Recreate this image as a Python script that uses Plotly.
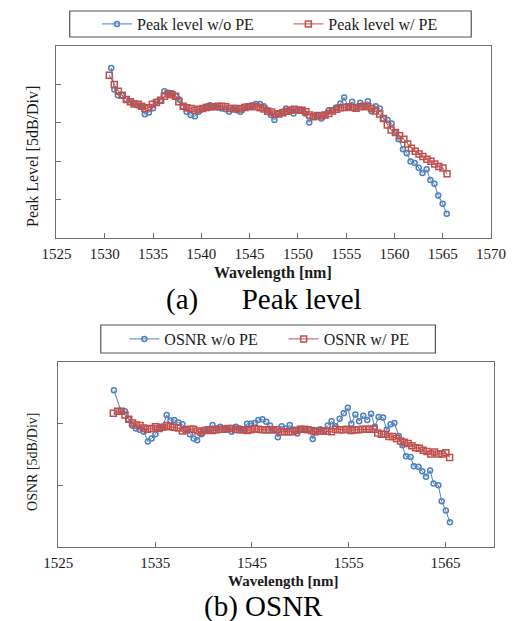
import plotly.graph_objects as go

# ---------------- (a) Peak level ----------------
pk_wo_x = [1530.67, 1530.99, 1531.35, 1531.77, 1532.20, 1532.59, 1532.98, 1533.40, 1533.79, 1534.15,
           1534.57, 1535.00, 1535.35, 1535.75, 1536.17, 1536.56, 1536.98, 1537.37, 1537.73, 1538.12,
           1538.48, 1538.90, 1539.33, 1539.72, 1540.11, 1540.50, 1540.89, 1541.28, 1541.70, 1542.10,
           1542.49, 1542.88, 1543.27, 1543.66, 1544.05, 1544.44, 1544.83, 1545.25, 1545.64, 1546.07,
           1546.46, 1546.85, 1547.21, 1547.57, 1547.96, 1548.35, 1548.77, 1549.16, 1549.55, 1549.94,
           1550.37, 1550.76, 1551.18, 1551.57, 1551.96, 1552.42, 1552.81, 1553.20, 1553.59, 1553.98,
           1554.40, 1554.79, 1555.22, 1555.61, 1556.03, 1556.45, 1556.85, 1557.24, 1557.63, 1558.05,
           1558.47, 1558.83, 1559.29, 1559.71, 1560.07, 1560.43, 1560.88, 1561.27, 1561.67, 1562.09,
           1562.51, 1562.90, 1563.33, 1563.72, 1564.14, 1564.53, 1564.99, 1565.41]
pk_wo_y = [4.43, 3.87, 3.72, 3.72, 3.62, 3.54, 3.50, 3.45, 3.42, 3.22,
           3.27, 3.38, 3.55, 3.59, 3.82, 3.78, 3.77, 3.69, 3.61, 3.42,
           3.29, 3.20, 3.17, 3.29, 3.37, 3.42, 3.46, 3.42, 3.40, 3.37,
           3.35, 3.29, 3.35, 3.33, 3.29, 3.42, 3.43, 3.45, 3.49, 3.49,
           3.43, 3.33, 3.20, 3.07, 3.24, 3.29, 3.37, 3.33, 3.24, 3.33,
           3.33, 3.24, 3.01, 3.16, 3.18, 3.11, 3.20, 3.33, 3.33, 3.40,
           3.50, 3.66, 3.42, 3.55, 3.40, 3.52, 3.42, 3.56, 3.30, 3.43,
           3.37, 3.11, 3.07, 2.98, 2.74, 2.57, 2.31, 2.21, 1.99, 1.95,
           1.83, 1.69, 1.79, 1.51, 1.41, 1.11, 0.89, 0.63]

pk_w_x = [1530.47, 1530.99, 1531.41, 1531.81, 1532.23, 1532.65, 1533.04, 1533.47, 1533.82, 1534.15,
          1534.54, 1534.93, 1535.35, 1535.78, 1536.17, 1536.56, 1536.95, 1537.34, 1537.67, 1538.12,
          1538.51, 1538.94, 1539.33, 1539.75, 1540.14, 1540.53, 1540.92, 1541.31, 1541.70, 1542.13,
          1542.52, 1542.94, 1543.33, 1543.69, 1544.11, 1544.50, 1544.93, 1545.32, 1545.71, 1546.10,
          1546.49, 1546.88, 1547.27, 1547.63, 1548.02, 1548.44, 1548.84, 1549.23, 1549.62, 1550.04,
          1550.43, 1550.82, 1551.21, 1551.60, 1552.03, 1552.42, 1552.81, 1553.20, 1553.59, 1554.01,
          1554.40, 1554.83, 1555.22, 1555.64, 1556.03, 1556.45, 1556.85, 1557.24, 1557.63, 1558.02,
          1558.47, 1558.86, 1559.26, 1559.65, 1560.10, 1560.53, 1560.98, 1561.37, 1561.76, 1562.15,
          1562.54, 1562.94, 1563.36, 1563.78, 1564.17, 1564.60, 1565.02, 1565.44]
pk_w_y = [4.24, 4.00, 3.82, 3.72, 3.61, 3.55, 3.49, 3.48, 3.43, 3.37,
          3.39, 3.48, 3.53, 3.59, 3.69, 3.75, 3.73, 3.69, 3.55, 3.43,
          3.39, 3.37, 3.33, 3.35, 3.37, 3.40, 3.42, 3.42, 3.43, 3.43,
          3.42, 3.37, 3.37, 3.37, 3.36, 3.40, 3.42, 3.43, 3.42, 3.39,
          3.36, 3.30, 3.28, 3.23, 3.23, 3.26, 3.30, 3.33, 3.35, 3.33,
          3.33, 3.29, 3.20, 3.16, 3.19, 3.18, 3.20, 3.24, 3.31, 3.35,
          3.39, 3.40, 3.42, 3.40, 3.38, 3.42, 3.43, 3.42, 3.37, 3.31,
          3.23, 3.11, 2.94, 2.81, 2.75, 2.66, 2.57, 2.45, 2.34, 2.26,
          2.19, 2.12, 2.05, 2.00, 1.93, 1.86, 1.82, 1.67]

# ---------------- (b) OSNR ----------------
os_wo_x = [1530.74, 1531.49, 1531.88, 1532.24, 1532.62, 1533.01, 1533.40, 1533.82, 1534.25, 1534.64,
           1535.03, 1535.41, 1535.80, 1536.19, 1536.58, 1536.97, 1537.39, 1537.82, 1538.20, 1538.59,
           1538.98, 1539.34, 1539.76, 1540.15, 1540.54, 1540.93, 1541.32, 1541.74, 1542.13, 1542.52,
           1542.91, 1543.33, 1543.75, 1544.11, 1544.50, 1544.89, 1545.28, 1545.67, 1546.09, 1546.48,
           1546.87, 1547.29, 1547.68, 1548.07, 1548.49, 1548.91, 1549.30, 1549.69, 1550.08, 1550.47,
           1550.86, 1551.28, 1551.67, 1552.06, 1552.48, 1552.84, 1553.23, 1553.62, 1554.07, 1554.49,
           1554.91, 1555.27, 1555.69, 1556.08, 1556.50, 1556.92, 1557.31, 1557.70, 1558.09, 1558.55,
           1558.94, 1559.33, 1559.72, 1560.17, 1560.56, 1560.92, 1561.40, 1561.73, 1562.21, 1562.60,
           1562.99, 1563.41, 1563.77, 1564.26, 1564.61, 1565.04, 1565.46]
os_wo_y = [2.54, 2.20, 2.20, 2.07, 1.97, 1.92, 1.90, 1.87, 1.71, 1.76,
           1.83, 1.92, 1.95, 2.14, 2.05, 2.06, 2.02, 1.99, 1.91, 1.83,
           1.76, 1.73, 1.83, 1.90, 1.91, 1.98, 1.92, 1.95, 1.91, 1.90,
           1.87, 1.95, 1.92, 1.91, 2.00, 2.00, 2.01, 2.06, 2.07, 2.03,
           1.97, 1.90, 1.78, 1.96, 1.92, 1.98, 1.90, 1.84, 1.91, 1.91,
           1.91, 1.75, 1.89, 1.91, 1.89, 1.97, 2.04, 1.96, 2.08, 2.17,
           2.26, 2.00, 2.15, 2.04, 2.13, 2.06, 2.16, 1.95, 2.11, 2.10,
           1.90, 1.99, 2.01, 1.80, 1.65, 1.47, 1.46, 1.31, 1.30, 1.23,
           1.14, 1.24, 1.03, 1.00, 0.74, 0.59, 0.40]

os_w_x = [1530.68, 1531.13, 1531.49, 1531.88, 1532.27, 1532.66, 1533.05, 1533.44, 1533.82, 1534.21,
          1534.60, 1535.03, 1535.41, 1535.80, 1536.19, 1536.58, 1536.97, 1537.39, 1537.82, 1538.20,
          1538.59, 1538.98, 1539.37, 1539.76, 1540.15, 1540.54, 1540.93, 1541.32, 1541.71, 1542.13,
          1542.52, 1542.91, 1543.33, 1543.72, 1544.11, 1544.50, 1544.89, 1545.28, 1545.67, 1546.06,
          1546.45, 1546.84, 1547.22, 1547.61, 1548.00, 1548.39, 1548.81, 1549.20, 1549.59, 1550.01,
          1550.40, 1550.79, 1551.18, 1551.57, 1551.99, 1552.38, 1552.77, 1553.23, 1553.62, 1554.04,
          1554.43, 1554.82, 1555.24, 1555.63, 1556.02, 1556.41, 1556.80, 1557.18, 1557.61, 1558.00,
          1558.39, 1558.77, 1559.16, 1559.55, 1559.94, 1560.36, 1560.75, 1561.14, 1561.53, 1561.92,
          1562.31, 1562.70, 1563.09, 1563.48, 1563.87, 1564.26, 1564.65, 1565.04, 1565.43]
os_w_y = [2.17, 2.20, 2.20, 2.14, 2.07, 2.01, 1.98, 1.97, 1.93, 1.91,
          1.92, 1.95, 1.92, 1.94, 1.97, 1.95, 1.94, 1.93, 1.88, 1.90,
          1.91, 1.91, 1.88, 1.86, 1.89, 1.90, 1.89, 1.90, 1.91, 1.91,
          1.92, 1.92, 1.91, 1.90, 1.90, 1.89, 1.90, 1.92, 1.91, 1.90,
          1.90, 1.90, 1.90, 1.90, 1.87, 1.87, 1.87, 1.87, 1.89, 1.91,
          1.91, 1.90, 1.89, 1.87, 1.88, 1.88, 1.88, 1.87, 1.91, 1.90,
          1.90, 1.91, 1.89, 1.90, 1.90, 1.91, 1.91, 1.91, 1.91, 1.85,
          1.83, 1.83, 1.79, 1.79, 1.76, 1.72, 1.70, 1.68, 1.64, 1.61,
          1.60, 1.57, 1.55, 1.51, 1.54, 1.51, 1.51, 1.53, 1.45]

x_ticks_a = [1525, 1530, 1535, 1540, 1545, 1550, 1555, 1560, 1565, 1570]
x_ticks_b = [1525, 1535, 1545, 1555, 1565]
y_ticks_a = [1, 2, 3, 4]
y_ticks_b = [1, 2]

W, H = 523, 621
def px(x):
    return x / W
def py(y):
    return 1 - y / H

BLUE = "#4F81BD"
RED = "#C0504D"
SERIF = "Liberation Serif, Times New Roman, serif"
TXT = "#1a1a1a"

fig = go.Figure()

def blue_trace(x, y, name, xa, ya, leg):
    return go.Scatter(x=x, y=y, name=name, mode="lines+markers", xaxis=xa, yaxis=ya, legend=leg,
                      line=dict(color=BLUE, width=1),
                      marker=dict(symbol="circle-open", size=5, color=BLUE, line=dict(width=1.5)))

def red_trace(x, y, name, xa, ya, leg):
    return go.Scatter(x=x, y=y, name=name, mode="lines+markers", xaxis=xa, yaxis=ya, legend=leg,
                      line=dict(color=RED, width=1),
                      marker=dict(symbol="square-open", size=6, color=RED, line=dict(width=1.5)))

fig.add_trace(blue_trace(pk_wo_x, pk_wo_y, "Peak level w/o PE", "x", "y", "legend"))
fig.add_trace(red_trace(pk_w_x, pk_w_y, "Peak level w/ PE", "x", "y", "legend2"))
fig.add_trace(blue_trace(os_wo_x, os_wo_y, "OSNR w/o PE", "x2", "y2", "legend3"))
fig.add_trace(red_trace(os_w_x, os_w_y, "OSNR w/ PE", "x2", "y2", "legend4"))

axis_common = dict(showline=True, linecolor="#6e6e6e", linewidth=1, mirror=True, showgrid=False,
                   zeroline=False, ticks="inside", ticklen=5, tickcolor="#6e6e6e",
                   tickfont=dict(family=SERIF, size=15, color=TXT))

fig.update_layout(
    width=W, height=H, margin=dict(l=0, r=0, t=0, b=0),
    paper_bgcolor="white", plot_bgcolor="white", showlegend=True,
    xaxis=dict(domain=[px(44), px(505)], range=[1525, 1570], tickvals=x_ticks_a,
               anchor="y", ticklabelstandoff=2, **axis_common),
    yaxis=dict(domain=[py(238), py(46)], range=[0, 5], tickvals=y_ticks_a,
               showticklabels=False, anchor="x", **axis_common),
    xaxis2=dict(domain=[px(46), px(508)], range=[1525, 1570], tickvals=x_ticks_b,
                anchor="y2", ticklabelstandoff=2, **axis_common),
    yaxis2=dict(domain=[py(547), py(362)], range=[0, 3], tickvals=y_ticks_b,
                showticklabels=False, anchor="x2", **axis_common),
)

leg_common = dict(orientation="h", xanchor="left", yanchor="middle", bgcolor="rgba(0,0,0,0)",
                  borderwidth=0, font=dict(family=SERIF, size=16, color=TXT))
fig.update_layout(
    legend=dict(x=px(87), y=py(24), **leg_common),
    legend2=dict(x=px(290), y=py(24), **leg_common),
    legend3=dict(x=px(116), y=py(339), **leg_common),
    legend4=dict(x=px(285), y=py(339), **leg_common),
)

# legend frames
for (x0, y0, x1, y1) in [(58, 11, 484, 37), (91, 325, 446, 353)]:
    fig.add_shape(type="rect", xref="paper", yref="paper",
                  x0=px(x0), x1=px(x1), y0=py(y1), y1=py(y0),
                  line=dict(color="#555555", width=1.2), fillcolor="rgba(0,0,0,0)")

annots = [
    dict(text="<b>Wavelength [nm]</b>", x=px(274), y=py(273), font=dict(family=SERIF, size=16, color=TXT)),
    dict(text="<b>Wavelength [nm]</b>", x=px(284), y=py(581), font=dict(family=SERIF, size=15, color=TXT)),
    dict(text="Peak Level [5dB/Div]", x=px(18), y=py(156), textangle=-90, font=dict(family=SERIF, size=16, color=TXT)),
    dict(text="OSNR [5dB/Div]", x=px(18), y=py(462), textangle=-90, font=dict(family=SERIF, size=14, color=TXT)),
    dict(text="(a)\u00a0\u00a0\u00a0\u00a0\u00a0 Peak level", x=px(264), y=py(300), font=dict(family=SERIF, size=29, color="black")),
    dict(text="(b) OSNR", x=px(264), y=py(606), font=dict(family=SERIF, size=29, color="black")),
]
for a in annots:
    fig.add_annotation(xref="paper", yref="paper", showarrow=False, xanchor="center", yanchor="middle", **a)

fig.write_html("out.html")
